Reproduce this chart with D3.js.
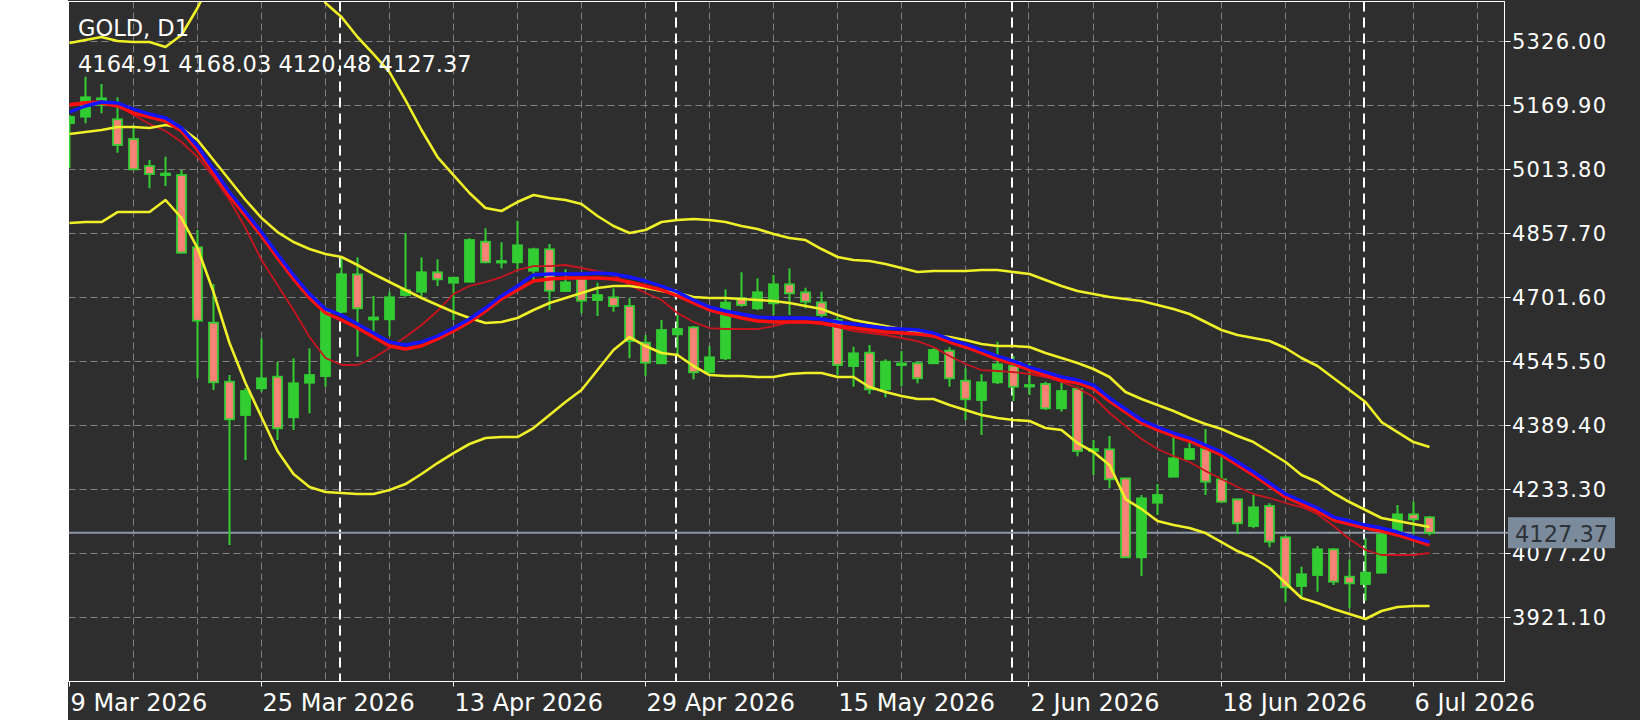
<!DOCTYPE html>
<html>
<head>
<meta charset="utf-8">
<script src="https://cdn.jsdelivr.net/npm/d3@7"></script>
<style>
  html, body { margin: 0; padding: 0; background: #ffffff; }
  svg { display: block; }
  text { font-family: 'DejaVu Sans', sans-serif; }
</style>
</head>
<body>
<svg id="chart" width="1640" height="720"></svg>
<script>
// daily bars, GOLD D1
const dates = [
  '2026-03-09','2026-03-10','2026-03-11','2026-03-12','2026-03-13','2026-03-16','2026-03-17','2026-03-18','2026-03-19','2026-03-20',
  '2026-03-23','2026-03-24','2026-03-25','2026-03-26','2026-03-27','2026-03-30','2026-03-31','2026-04-01','2026-04-02','2026-04-06',
  '2026-04-07','2026-04-08','2026-04-09','2026-04-10','2026-04-13','2026-04-14','2026-04-15','2026-04-16','2026-04-17','2026-04-20',
  '2026-04-21','2026-04-22','2026-04-23','2026-04-24','2026-04-27','2026-04-28','2026-04-29','2026-04-30','2026-05-01','2026-05-04',
  '2026-05-05','2026-05-06','2026-05-07','2026-05-08','2026-05-11','2026-05-12','2026-05-13','2026-05-14','2026-05-15','2026-05-18',
  '2026-05-19','2026-05-20','2026-05-21','2026-05-22','2026-05-25','2026-05-26','2026-05-27','2026-05-28','2026-05-29','2026-06-01',
  '2026-06-02','2026-06-03','2026-06-04','2026-06-05','2026-06-08','2026-06-09','2026-06-10','2026-06-11','2026-06-12','2026-06-15',
  '2026-06-16','2026-06-17','2026-06-18','2026-06-19','2026-06-22','2026-06-23','2026-06-24','2026-06-25','2026-06-26','2026-06-29',
  '2026-06-30','2026-07-01','2026-07-02','2026-07-03','2026-07-06','2026-07-07'
];

const opens = [
  5126.4,5141.8,5170.4,5135.5,5087.4,5021.6,4999.6,4999.6,4823.3,4639.5,
  4495.6,4414.4,4479.5,4507.8,4408.8,4493.2,4509.5,4666.3,4757.5,4647.3,
  4647.8,4707.0,4715.1,4762.4,4737.0,4739.5,4837.0,4786.3,4786.8,4766.3,
  4818.5,4716.8,4746.0,4694.8,4701.4,4680.2,4590.7,4540.5,4611.2,4628.2,
  4518.5,4552.7,4699.0,4674.6,4686.8,4733.1,4713.6,4689.2,4646.0,4533.9,
  4566.3,4477.0,4537.5,4540.5,4540.5,4571.2,4498.0,4451.0,4494.1,4533.9,
  4483.9,4490.0,4430.7,4477.8,4326.6,4330.7,4260.0,4067.4,4200.5,4263.9,
  4307.1,4331.5,4257.6,4208.8,4143.7,4192.5,4116.1,3997.4,4024.2,4086.9,
  4020.1,4002.2,4029.8,4129.8,4172.2,4164.91
];
const highs = [
  5145.9,5239.4,5221.6,5189.1,5121.6,5036.2,5044.3,5011.8,4865.5,4733.8,
  4511.9,4480.2,4601.4,4544.4,4552.7,4577.0,4678.5,4796.5,4799.0,4704.6,
  4715.1,4857.5,4799.0,4794.1,4749.2,4845.3,4869.7,4835.5,4888.2,4822.4,
  4831.4,4769.7,4751.6,4737.0,4723.3,4699.0,4609.5,4646.0,4658.2,4631.4,
  4582.6,4720.9,4762.4,4747.7,4755.8,4772.1,4724.8,4715.1,4654.1,4580.9,
  4585.1,4550.2,4570.5,4544.4,4577.0,4579.4,4528.2,4514.3,4593.1,4558.3,
  4540.5,4495.6,4493.2,4483.4,4353.4,4363.2,4260.0,4219.3,4246.1,4361.4,
  4349.3,4380.2,4329.0,4208.8,4219.3,4199.0,4120.0,4044.4,4094.9,4089.3,
  4062.4,4113.7,4129.8,4194.9,4203.0,4168.03
];
const lows = [
  5016.7,5125.7,5150.1,5054.0,5011.8,4967.2,4972.8,4808.7,4503.9,4475.3,
  4097.4,4304.6,4471.2,4353.4,4377.8,4418.5,4483.4,4662.4,4556.6,4613.7,
  4607.0,4702.9,4699.0,4729.0,4646.0,4739.5,4784.3,4772.1,4768.0,4739.5,
  4670.4,4716.8,4662.4,4655.8,4666.3,4552.7,4509.5,4538.8,4560.7,4501.4,
  4516.1,4548.5,4678.5,4670.4,4658.2,4658.2,4674.6,4646.0,4511.9,4483.4,
  4465.6,4457.5,4485.1,4491.7,4540.5,4483.4,4402.2,4365.6,4490.0,4448.5,
  4463.1,4426.6,4422.4,4313.7,4268.1,4235.6,4067.4,4021.8,4170.5,4263.9,
  4304.6,4219.3,4203.0,4124.2,4138.1,4091.7,3959.1,3969.9,3983.5,3999.8,
  3943.0,3961.6,4029.8,4129.8,4126.0,4120.48
];
const closes = [
  5141.1,5189.1,5186.7,5072.8,5013.5,5002.1,5003.3,4810.2,4644.3,4494.1,
  4403.9,4472.9,4503.9,4382.0,4491.7,4511.9,4668.7,4757.5,4674.6,4652.2,
  4701.4,4719.2,4762.4,4745.3,4749.2,4841.1,4786.8,4789.9,4828.2,4818.5,
  4717.5,4738.0,4693.1,4707.0,4680.2,4594.8,4542.0,4621.7,4624.1,4518.5,
  4555.1,4688.3,4682.6,4713.6,4733.1,4711.1,4690.7,4658.2,4536.3,4564.8,
  4477.0,4544.4,4540.0,4503.9,4572.9,4503.9,4452.7,4494.1,4538.0,4483.4,
  4487.5,4430.7,4472.9,4326.6,4331.5,4257.6,4067.4,4211.2,4219.3,4308.8,
  4331.5,4251.7,4203.0,4150.3,4189.3,4105.4,3994.2,4026.0,4086.9,4007.9,
  4003.9,4029.8,4121.8,4172.2,4160.0,4127.37
];

// indicator lines
const maBlue = [
  5153.3,5167.9,5177.7,5175.2,5160.6,5148.4,5138.7,5114.3,5070.4,5014.3,
  4958.2,4909.4,4860.6,4807.0,4755.8,4709.5,4672.9,4658.2,4636.3,4614.4,
  4592.4,4585.1,4592.4,4607.0,4626.5,4648.5,4675.3,4704.6,4729.0,4755.8,
  4758.2,4758.2,4758.2,4760.7,4758.2,4750.9,4741.2,4729.0,4714.3,4694.8,
  4677.8,4668.0,4660.7,4653.4,4650.9,4650.9,4650.9,4648.5,4641.2,4636.3,
  4631.4,4626.5,4624.1,4621.7,4614.4,4599.7,4587.5,4572.9,4558.3,4546.1,
  4531.4,4519.2,4507.1,4499.7,4487.5,4455.8,4429.0,4402.2,4385.1,4370.5,
  4358.3,4341.2,4324.2,4299.8,4275.4,4248.6,4221.7,4204.7,4187.6,4165.6,
  4155.9,4146.1,4138.8,4129.1,4116.9,4104.7
];
const maRed = [
  5170.4,5175.2,5175.2,5167.9,5150.8,5141.1,5131.3,5106.9,5060.6,5004.5,
  4948.4,4899.7,4850.9,4797.2,4746.0,4699.7,4663.1,4646.0,4626.5,4604.6,
  4582.6,4575.3,4582.6,4599.7,4619.2,4641.2,4668.0,4697.3,4719.2,4741.2,
  4746.0,4748.5,4748.5,4748.5,4746.0,4738.7,4729.0,4719.2,4704.6,4687.5,
  4670.4,4660.7,4650.9,4643.6,4641.2,4641.2,4641.2,4638.7,4631.4,4626.5,
  4621.7,4616.8,4614.4,4611.9,4607.0,4592.4,4580.2,4565.6,4550.9,4538.8,
  4524.1,4511.9,4499.7,4492.4,4477.8,4448.5,4421.7,4394.9,4377.8,4363.2,
  4351.0,4333.9,4316.8,4292.5,4268.1,4241.2,4214.4,4197.4,4180.3,4158.3,
  4148.6,4138.8,4131.5,4121.8,4109.6,4097.4
];
const maFast = [
  5172.8,5177.7,5180.1,5170.4,5146.0,5124.0,5106.9,5080.1,5043.5,4994.8,
  4938.7,4870.4,4792.4,4731.4,4670.4,4604.6,4553.4,4536.3,4536.3,4553.4,
  4577.8,4604.6,4633.9,4668.0,4709.5,4729.0,4738.7,4750.9,4768.0,4777.7,
  4777.7,4780.2,4772.9,4765.5,4755.8,4731.4,4711.9,4694.8,4663.1,4641.2,
  4626.5,4624.1,4624.1,4624.1,4631.4,4641.2,4641.2,4636.3,4629.0,4619.2,
  4614.4,4609.5,4602.2,4594.8,4580.2,4558.3,4538.8,4524.1,4521.7,4519.2,
  4514.4,4507.1,4494.9,4480.2,4458.3,4419.3,4387.6,4355.9,4331.5,4314.4,
  4299.8,4277.8,4258.3,4238.8,4221.7,4212.0,4199.8,4190.0,4173.0,4143.7,
  4112.0,4085.2,4073.0,4073.0,4073.0,4077.9
];
const bbUpper = [
  5321.5,5328.9,5336.2,5326.4,5324.0,5324.0,5311.8,5341.0,5406.9,5487.4,
  5560.5,5609.3,5633.7,5621.5,5572.7,5499.6,5419.1,5384.9,5336.2,5294.7,
  5250.8,5182.5,5109.4,5043.5,4999.6,4955.8,4919.2,4911.9,4933.8,4950.9,
  4943.6,4938.7,4928.9,4899.7,4875.3,4858.2,4865.5,4885.0,4889.9,4892.4,
  4889.9,4885.0,4875.3,4868.0,4855.8,4846.0,4841.1,4819.2,4799.7,4792.4,
  4789.9,4782.6,4772.9,4763.1,4765.5,4765.5,4765.5,4768.0,4768.0,4763.1,
  4758.2,4743.6,4729.0,4716.8,4709.5,4702.1,4697.3,4692.4,4682.6,4672.9,
  4660.7,4641.2,4621.7,4609.5,4602.2,4594.8,4577.8,4553.4,4533.9,4504.6,
  4475.4,4446.1,4397.3,4372.9,4348.5,4336.4
];
const bbMiddle = [
  5099.6,5104.5,5109.4,5116.7,5116.7,5114.3,5121.6,5114.3,5085.0,5036.2,
  4987.5,4938.7,4894.8,4860.6,4836.3,4819.2,4807.0,4799.7,4780.2,4758.2,
  4738.7,4719.2,4699.7,4682.6,4665.6,4650.9,4638.7,4641.2,4650.9,4670.4,
  4687.5,4699.7,4711.9,4724.1,4729.0,4729.0,4724.1,4716.8,4711.9,4702.1,
  4699.7,4699.7,4697.3,4694.8,4692.4,4687.5,4680.2,4672.9,4658.2,4646.0,
  4638.7,4631.4,4624.1,4616.8,4609.5,4604.6,4597.3,4587.5,4582.6,4582.6,
  4580.2,4565.6,4553.4,4541.2,4526.6,4507.1,4470.5,4453.4,4438.8,4424.1,
  4407.1,4392.4,4380.2,4363.2,4348.5,4324.2,4299.8,4268.1,4251.0,4224.2,
  4202.2,4182.7,4163.2,4155.9,4148.6,4141.3
];
const bbLower = [
  4882.6,4885.0,4885.0,4909.4,4909.4,4909.4,4938.7,4894.8,4821.6,4714.3,
  4590.0,4492.4,4409.5,4326.6,4270.5,4238.8,4226.6,4224.2,4221.7,4221.7,
  4231.5,4246.1,4270.5,4297.3,4321.7,4343.7,4358.3,4360.7,4360.7,4382.7,
  4414.4,4446.1,4475.4,4524.1,4572.9,4604.6,4582.6,4565.6,4560.7,4533.9,
  4511.9,4509.5,4509.5,4507.1,4507.1,4514.4,4516.8,4516.8,4507.1,4507.1,
  4482.7,4470.5,4460.7,4453.4,4453.4,4438.8,4426.6,4414.4,4407.1,4402.2,
  4399.8,4382.7,4377.8,4346.1,4324.2,4292.5,4209.5,4185.2,4155.9,4146.1,
  4138.8,4126.6,4104.7,4082.7,4065.7,4041.3,4004.7,3968.1,3955.9,3941.3,
  3929.1,3916.9,3936.4,3946.2,3948.6,3948.6
];

const priceTicks = [3921.10, 4077.20, 4233.30, 4389.40, 4545.50, 4701.60, 4857.70, 5013.80, 5169.90, 5326.00];
const symbolTitle = 'GOLD, D1';
const lastPrice = 4127.37;

const W = 1640, H = 720;
const plot = { left: 68.5, top: 1.5, right: 1504.5, bottom: 681.5 };
const barStep = 16, slotsShown = 88;

const bg = '#2e2e2e', gridCol = '#808080', bullCol = '#32cd32', bearFill = '#f58272';

const svg = d3.select('#chart');

const parse = d3.timeParse('%Y-%m-%d');
const fmtDate = d3.timeFormat('%-d %b %Y');
const dateObjs = dates.map(parse);

const x = d3.scaleLinear().domain([0, slotsShown]).range([69.5, 69.5 + slotsShown * barStep]);
const y = d3.scaleLinear().domain([3921.1, 5169.9]).range([617.3, 105.2]);

// background
svg.append('rect').attr('width', W).attr('height', H).attr('fill', bg);
svg.append('rect').attr('x', 0).attr('y', 0).attr('width', 68).attr('height', H).attr('fill', '#ffffff');

svg.append('defs').append('clipPath').attr('id', 'plotClip')
  .append('rect')
  .attr('x', plot.left).attr('y', plot.top)
  .attr('width', plot.right - plot.left).attr('height', plot.bottom - plot.top);

const grid = svg.append('g');
// vertical grid every 4 bars
grid.selectAll('.vg')
  .data(d3.range(4, slotsShown + 1, 4))
  .enter().append('line')
  .attr('x1', d => Math.round(x(d)) - 0.5).attr('x2', d => Math.round(x(d)) - 0.5)
  .attr('y1', plot.top).attr('y2', plot.bottom)
  .attr('stroke', gridCol).attr('stroke-width', 1).attr('stroke-dasharray', '7,4');
// horizontal grid on price ticks
grid.selectAll('.hg')
  .data(priceTicks)
  .enter().append('line')
  .attr('x1', plot.left).attr('x2', plot.right)
  .attr('y1', d => Math.round(y(d)) + 0.5).attr('y2', d => Math.round(y(d)) + 0.5)
  .attr('stroke', gridCol).attr('stroke-width', 1).attr('stroke-dasharray', '7,4');

// month separators
const monthStarts = dateObjs.map((d, i) => i).filter(i => i > 0 && dateObjs[i].getMonth() !== dateObjs[i - 1].getMonth());
grid.selectAll('.sep')
  .data(monthStarts)
  .enter().append('line')
  .attr('x1', d => x(d) - 1.5).attr('x2', d => x(d) - 1.5)
  .attr('y1', plot.top).attr('y2', plot.bottom)
  .attr('stroke', '#ffffff').attr('stroke-width', 2).attr('stroke-dasharray', '10,6');

const body = svg.append('g').attr('clip-path', 'url(#plotClip)');

// last price line
body.append('line')
  .attr('x1', plot.left).attr('x2', plot.right)
  .attr('y1', y(lastPrice)).attr('y2', y(lastPrice))
  .attr('stroke', '#8a98a8').attr('stroke-width', 2);

// candles
const candles = body.selectAll('.candle')
  .data(dates.map((d, i) => ({ i, o: opens[i], h: highs[i], l: lows[i], c: closes[i] })))
  .enter().append('g');

candles.append('line')
  .attr('x1', d => x(d.i)).attr('x2', d => x(d.i))
  .attr('y1', d => y(d.h)).attr('y2', d => y(d.l))
  .attr('stroke', bullCol).attr('stroke-width', 2);

candles.append('rect')
  .attr('x', d => x(d.i) - 4.5)
  .attr('width', 9)
  .attr('y', d => y(Math.max(d.o, d.c)))
  .attr('height', d => Math.max(1.5, Math.abs(y(d.o) - y(d.c))))
  .attr('fill', d => d.c >= d.o ? bullCol : bearFill)
  .attr('stroke', bullCol).attr('stroke-width', 1.8);

// indicator lines
const line = d3.line().x((d, i) => x(i)).y(d => y(d));
const series = [
  { v: maFast, col: '#c8141e', w: 1.8 },
  { v: bbUpper, col: '#f0f028', w: 2.6 },
  { v: bbMiddle, col: '#f0f028', w: 2.6 },
  { v: bbLower, col: '#f0f028', w: 2.6 },
  { v: maRed, col: '#ff1010', w: 3.4 },
  { v: maBlue, col: '#1414ff', w: 3.4 }
];
body.selectAll('.ind')
  .data(series)
  .enter().append('path')
  .attr('d', d => line(d.v))
  .attr('fill', 'none')
  .attr('stroke', d => d.col)
  .attr('stroke-width', d => d.w)
  .attr('stroke-linejoin', 'round');

// frame
svg.append('rect')
  .attr('x', plot.left).attr('y', plot.top)
  .attr('width', plot.right - plot.left).attr('height', plot.bottom - plot.top)
  .attr('fill', 'none').attr('stroke', '#ffffff').attr('stroke-width', 1);

// price axis
const yAx = svg.append('g');
yAx.selectAll('.tk')
  .data(priceTicks)
  .enter().append('line')
  .attr('x1', plot.right).attr('x2', plot.right + 6)
  .attr('y1', d => Math.round(y(d)) + 0.5).attr('y2', d => Math.round(y(d)) + 0.5)
  .attr('stroke', '#ffffff').attr('stroke-width', 1);
yAx.selectAll('.lb')
  .data(priceTicks)
  .enter().append('text')
  .attr('x', 1512)
  .attr('y', d => y(d) + 7.5)
  .attr('fill', '#ffffff')
  .attr('font-size', 21)
  .attr('letter-spacing', 1.2)
  .text(d => d.toFixed(2));

// last price label
svg.append('line')
  .attr('x1', plot.right).attr('x2', 1508)
  .attr('y1', y(lastPrice)).attr('y2', y(lastPrice))
  .attr('stroke', '#8a98a8').attr('stroke-width', 2);
svg.append('rect')
  .attr('x', 1508).attr('y', y(lastPrice) - 15.5)
  .attr('width', 107).attr('height', 31)
  .attr('fill', '#7b8b9b');
svg.append('text')
  .attr('x', 1515).attr('y', y(lastPrice) + 9)
  .attr('fill', '#2f3338')
  .attr('font-size', 22.5)
  .text(lastPrice.toFixed(2));

// time axis
const xAx = svg.append('g');
const labelIdx = dates.map((d, i) => i).filter(i => i % 12 === 0);
xAx.selectAll('.tk')
  .data(labelIdx)
  .enter().append('line')
  .attr('x1', d => Math.round(x(d)) - 0.5).attr('x2', d => Math.round(x(d)) - 0.5)
  .attr('y1', plot.bottom).attr('y2', plot.bottom + 5)
  .attr('stroke', '#ffffff').attr('stroke-width', 1);
xAx.selectAll('.lb')
  .data(labelIdx)
  .enter().append('text')
  .attr('x', d => x(d) + 1)
  .attr('y', 711)
  .attr('fill', '#ffffff')
  .attr('font-size', 24)
  .text(d => fmtDate(dateObjs[d]));

// header
svg.append('text')
  .attr('x', 78).attr('y', 36)
  .attr('fill', '#ffffff').attr('font-size', 22.5)
  .text(symbolTitle);
svg.append('text')
  .attr('x', 78).attr('y', 72)
  .attr('fill', '#ffffff').attr('font-size', 22.5)
  .text([opens[opens.length - 1], highs[highs.length - 1], lows[lows.length - 1], closes[closes.length - 1]].map(v => v.toFixed(2)).join(' '));
</script>
</body>
</html>
